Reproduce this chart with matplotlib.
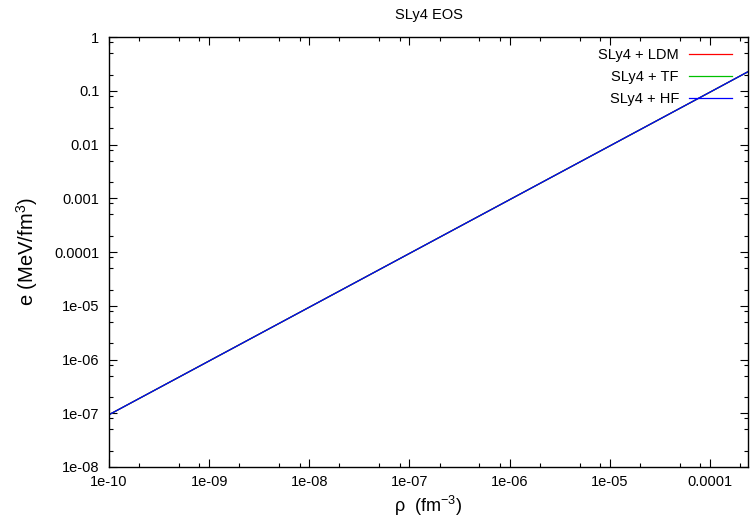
import matplotlib
matplotlib.use('Agg')
import matplotlib.pyplot as plt
from matplotlib.ticker import LogLocator, FixedLocator, NullFormatter

plt.rcParams['font.family'] = ['Liberation Sans', 'DejaVu Sans']
plt.rcParams['mathtext.fontset'] = 'custom'
plt.rcParams['mathtext.rm'] = 'Liberation Sans'

# densites (fm^-3) et energies (MeV/fm^3)
rho = [1e-10, 1e-9, 1e-8, 1e-7, 1e-6, 1e-5, 1e-4, 2.4e-4]
e_ldm = [9.4e-8, 9.4e-7, 9.4e-6, 9.4e-5, 9.4e-4, 9.4e-3, 9.4e-2, 0.226]
e_tf = [9.4e-8, 9.4e-7, 9.4e-6, 9.4e-5, 9.4e-4, 9.4e-3, 9.4e-2, 0.226]
e_hf = [9.4e-8, 9.4e-7, 9.4e-6, 9.4e-5, 9.4e-4, 9.4e-3, 9.4e-2, 0.226]

labels = ['SLy4 + LDM', 'SLy4 + TF', 'SLy4 + HF']
couleurs = ['#ff0000', '#00c000', '#0000ff']

xticks = [1e-10, 1e-9, 1e-8, 1e-7, 1e-6, 1e-5, 1e-4]
xticklabels = ['1e-10', '1e-09', '1e-08', '1e-07', '1e-06', '1e-05', '0.0001']
yticks = [1e-8, 1e-7, 1e-6, 1e-5, 1e-4, 1e-3, 1e-2, 1e-1, 1]
yticklabels = ['1e-08', '1e-07', '1e-06', '1e-05', '0.0001', '0.001', '0.01', '0.1', '1']

fig = plt.figure(figsize=(7.51, 5.20), dpi=100)
ax = fig.add_axes([109/751, 1 - 467/520, (748-109)/751, (467-37)/520])

for serie, lab, c in zip([e_ldm, e_tf, e_hf], labels, couleurs):
    ax.plot(rho, serie, color=c, lw=0.9, label=lab)

ax.set_xscale('log')
ax.set_yscale('log')
ax.set_xlim(1e-10, 2.4e-4)
ax.set_ylim(1e-8, 1)

ax.xaxis.set_major_locator(FixedLocator(xticks))
ax.set_xticklabels(xticklabels)
ax.yaxis.set_major_locator(FixedLocator(yticks))
ax.set_yticklabels(yticklabels)
ax.xaxis.set_minor_locator(LogLocator(base=10, subs=[2, 5, 8], numticks=20))
ax.yaxis.set_minor_locator(LogLocator(base=10, subs=[2, 5, 8], numticks=20))
ax.xaxis.set_minor_formatter(NullFormatter())
ax.yaxis.set_minor_formatter(NullFormatter())

ax.tick_params(which='both', direction='in', top=True, right=True, labelsize=10.5, width=0.8, colors='black')
ax.tick_params(which='major', length=6)
ax.tick_params(axis='y', which='major', pad=7)
ax.tick_params(axis='x', which='major', pad=6)
ax.tick_params(which='minor', length=3)
for s in ax.spines.values():
    s.set_linewidth(1.0)

ax.set_title('SLy4 EOS', fontsize=10.5, pad=13)
ax.set_xlabel('ρ  (fm$^{\\mathrm{-3}}$)', fontsize=13, labelpad=3)
ax.set_ylabel('e (MeV/fm$^{\\mathrm{3}}$)', fontsize=14.5, labelpad=10)

leg = ax.legend(loc='upper right', bbox_to_anchor=(0.975, 0.974), frameon=False,
                fontsize=10.5, markerfirst=False, handlelength=2.95,
                handletextpad=0.69, labelspacing=0.55,
                borderaxespad=0, borderpad=0)
for t in leg.get_texts():
    t.set_ha('right')

fig.savefig('out.png', dpi=100)
